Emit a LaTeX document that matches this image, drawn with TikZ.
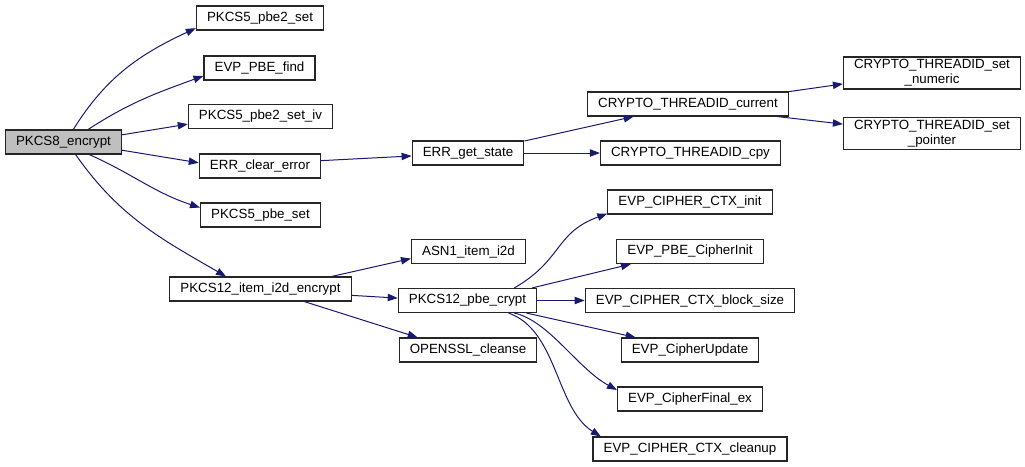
\documentclass[tikz,border=0pt]{standalone}
\usepackage{fontspec}
\setmainfont{Liberation Sans}
\usetikzlibrary{arrows.meta}
\definecolor{azulflecha}{HTML}{191970}
\definecolor{grisraiz}{HTML}{BFBFBF}
\tikzset{
  caja/.style     = {draw=black!85, fill=white, line width=0.8pt, font=\fontsize{10}{11}\selectfont,
                     inner xsep=8pt, inner ysep=2pt, minimum height=18pt, align=center},
  raiz/.style     = {caja, fill=grisraiz},
  llamada/.style  = {->, azulflecha, line width=0.75pt}
}

\begin{document}
\begin{tikzpicture}[>={Triangle[length=7.5pt,width=5.5pt]}, x=0.75pt, y=-0.75pt]
  \useasboundingbox (0,0) rectangle (1025,467);

  % nivel 0
  \node[raiz] (pkcs8) at (63.5,142) {PKCS8\_encrypt};

  % nivel 1
  \node[caja] (pbe2set)   at (260,18)    {PKCS5\_pbe2\_set};
  \node[caja] (pbefind)   at (259.5,68)  {EVP\_PBE\_find};
  \node[caja] (pbe2setiv) at (260.5,116.5) {PKCS5\_pbe2\_set\_iv};
  \node[caja] (errclear)  at (260,166)   {ERR\_clear\_error};
  \node[caja] (pbeset)    at (260.5,215) {PKCS5\_pbe\_set};
  \node[caja] (p12enc)    at (260.5,289) {PKCS12\_item\_i2d\_encrypt};

  % nivel 2
  \node[caja] (errstate)  at (468,153)   {ERR\_get\_state};
  \node[caja] (asn1)      at (468.5,251.5) {ASN1\_item\_i2d};
  \node[caja] (p12crypt)  at (467.5,300.5) {PKCS12\_pbe\_crypt};
  \node[caja] (cleanse)   at (468,350)   {OPENSSL\_cleanse};

  % nivel 3
  \node[caja] (tidcur)    at (688,104)   {CRYPTO\_THREADID\_current};
  \node[caja] (tidcpy)    at (690.5,153) {CRYPTO\_THREADID\_cpy};
  \node[caja] (ctxinit)   at (690,202)   {EVP\_CIPHER\_CTX\_init};
  \node[caja] (cipinit)   at (690,251.5) {EVP\_PBE\_CipherInit};
  \node[caja] (blksize)   at (690,300.5) {EVP\_CIPHER\_CTX\_block\_size};
  \node[caja] (update)    at (690,350)   {EVP\_CipherUpdate};
  \node[caja] (final)     at (690,399)   {EVP\_CipherFinal\_ex};
  \node[caja] (cleanup)   at (690,449)   {EVP\_CIPHER\_CTX\_cleanup};

  % nivel 4
  \node[caja] (tidnum)    at (932,73)    {CRYPTO\_THREADID\_set\\\_numeric};
  \node[caja] (tidptr)    at (932,133.5) {CRYPTO\_THREADID\_set\\\_pointer};

  % llamadas desde PKCS8_encrypt
  \draw[llamada] (pkcs8.52)  to[out=58, in=205] (pbe2set.189);
  \draw[llamada] (pkcs8.27)  to[out=33, in=200] (pbefind.188);
  \draw[llamada] (pkcs8.7)   -- (pbe2setiv.186);
  \draw[llamada] (pkcs8.352) -- (errclear.177);
  \draw[llamada] (pkcs8.334) to[out=-24, in=162] (pbeset.173);
  \draw[llamada] (pkcs8.314) to[out=-55, in=150] (p12enc.160);

  \draw[llamada] (errclear.5) -- (errstate.183);
  \draw[llamada] (errstate.12) -- (tidcur.193);
  \draw[llamada] (errstate.east) -- (tidcpy.west);
  \draw[llamada] (tidcur.7) -- (tidnum.187);
  \draw[llamada] (tidcur.352) -- (tidptr.174);

  % llamadas desde PKCS12_item_i2d_encrypt
  \draw[llamada] (p12enc.10) -- (asn1.187);
  \draw[llamada] (p12enc.356) -- (p12crypt.178);
  \draw[llamada] (p12enc.344) -- (cleanse.166);

  % llamadas desde PKCS12_pbe_crypt
  \draw[llamada] (p12crypt.15)  to[out=30, in=200, looseness=1.2] (ctxinit.188);
  \draw[llamada] (p12crypt.11)  -- (cipinit.192);
  \draw[llamada] (p12crypt.east) -- (blksize.west);
  \draw[llamada] (p12crypt.348) -- (update.167);
  \draw[llamada] (p12crypt.345) .. controls +(35,8) and +(-40,-22) .. (final.173);
  \draw[llamada] (p12crypt.343) .. controls +(49,17) and +(-45,-28) .. (cleanup.172);
\end{tikzpicture}
\end{document}
